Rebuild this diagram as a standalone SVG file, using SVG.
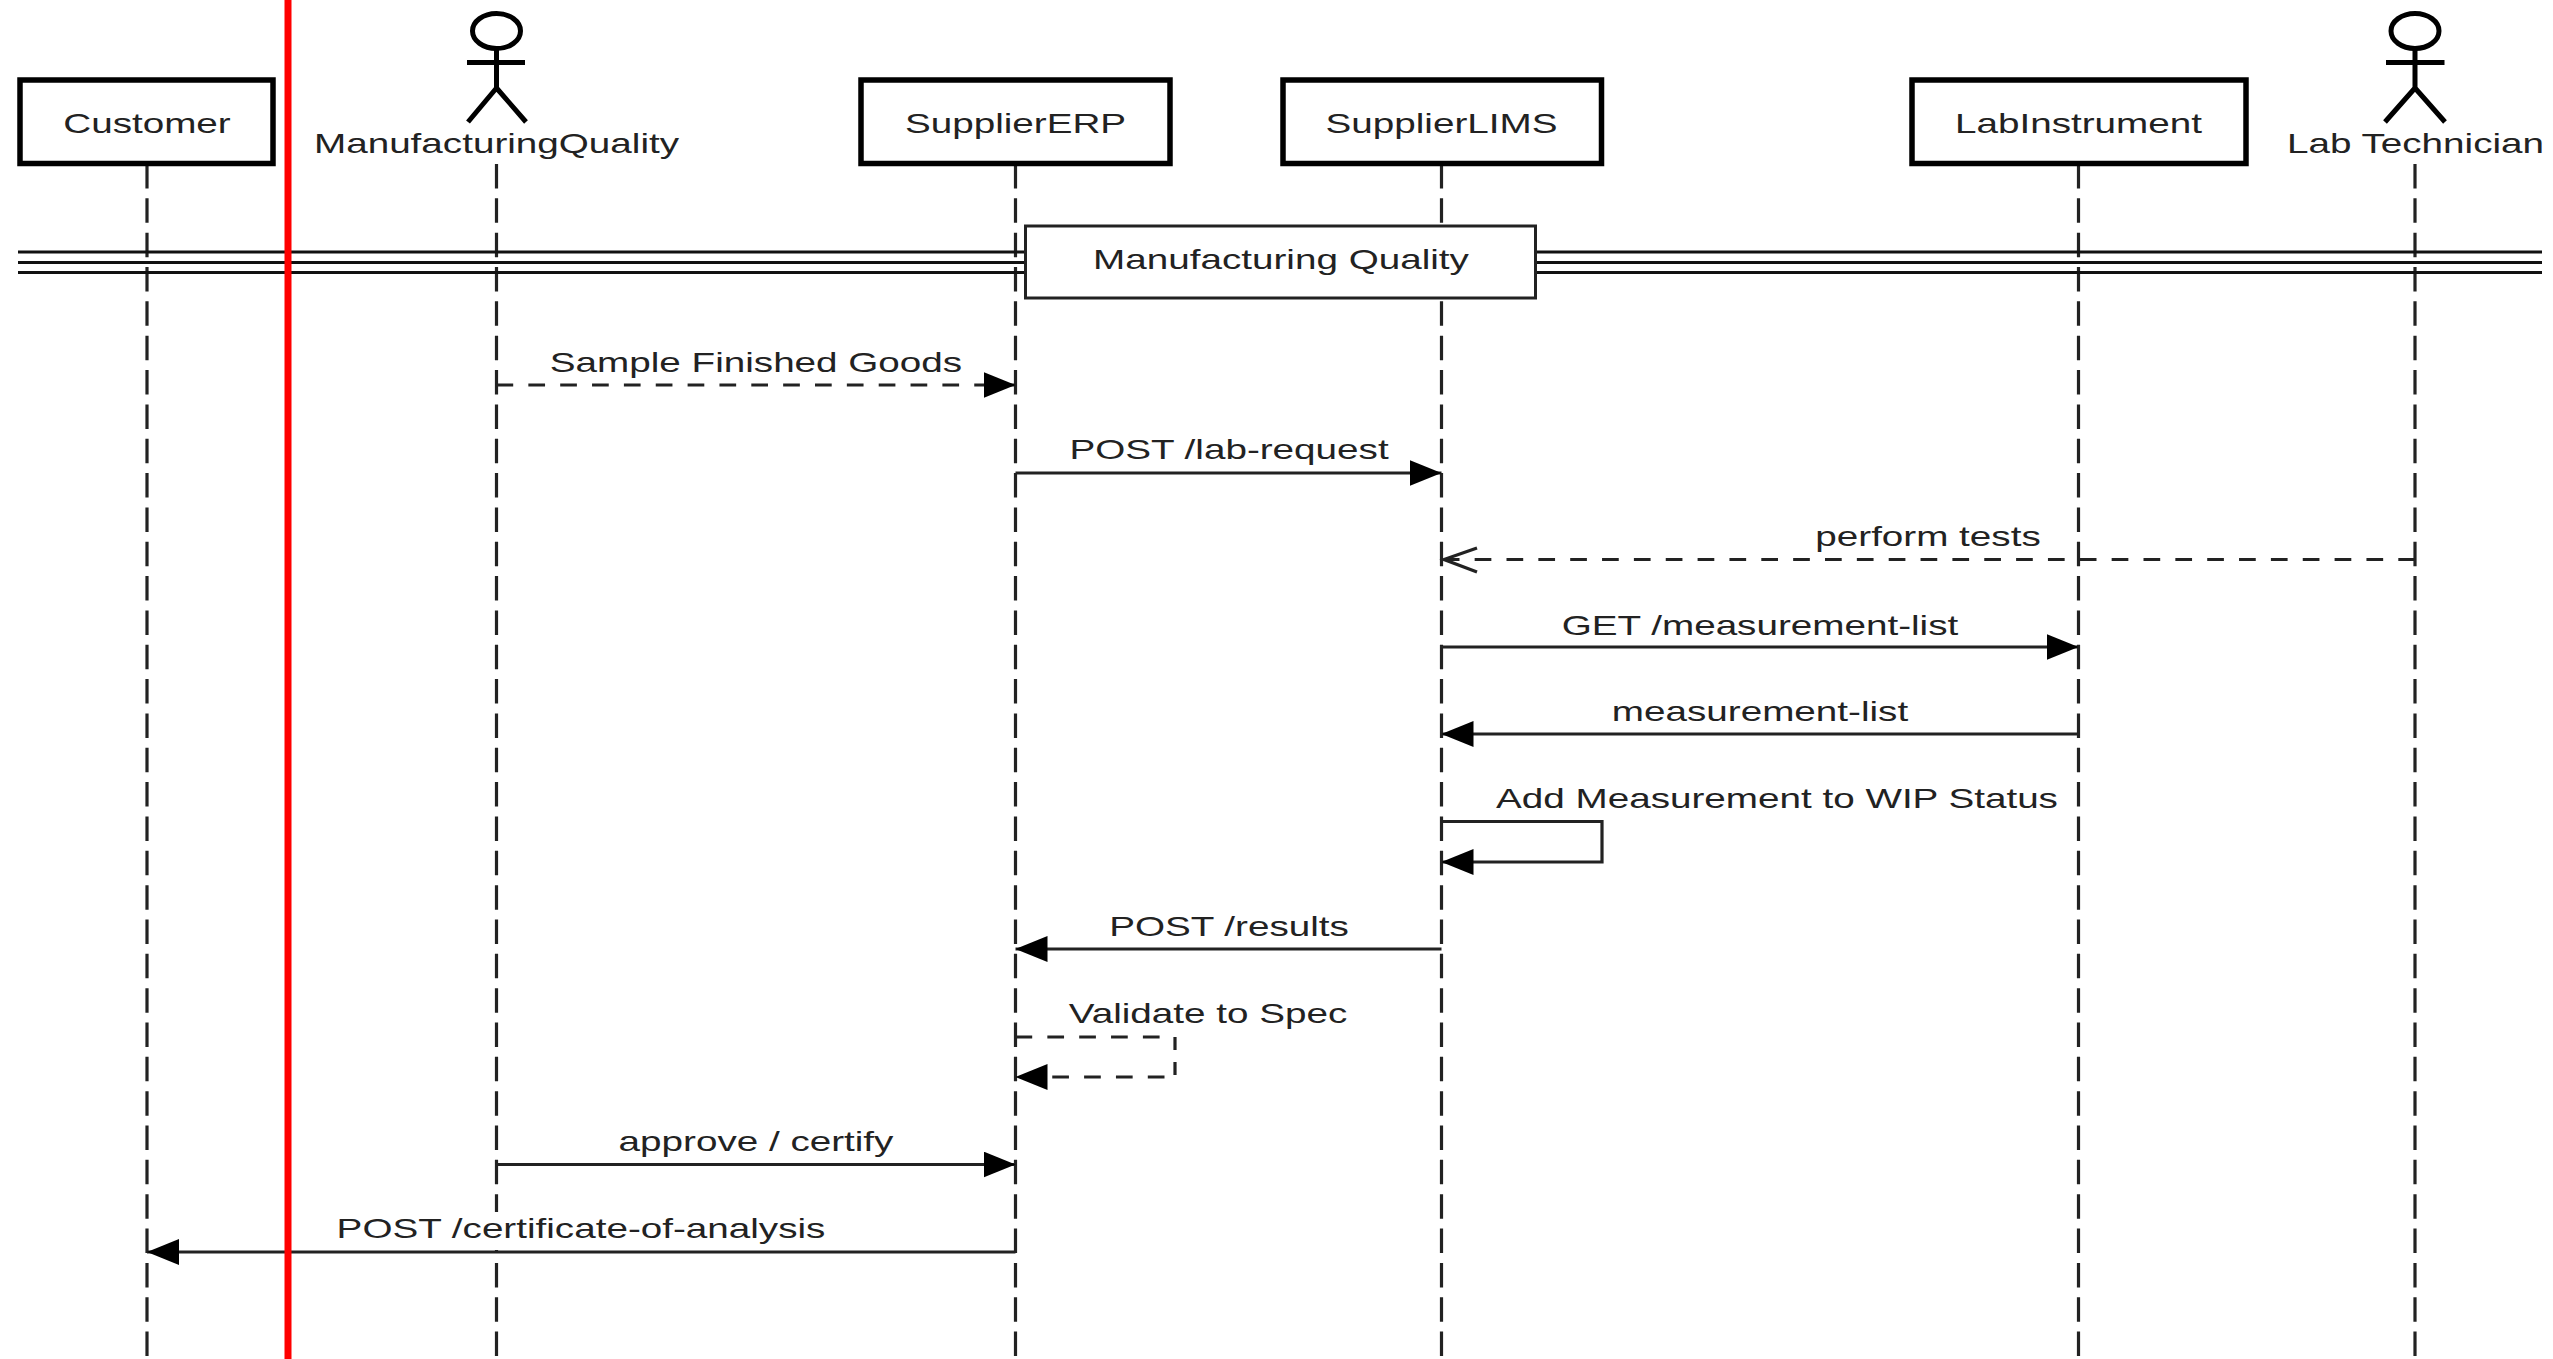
<svg xmlns="http://www.w3.org/2000/svg" width="2553" height="1359" viewBox="0 0 2553 1359">
<style>
text{font-family:"Liberation Sans",Arial,sans-serif;font-size:28px;fill:#222;text-anchor:middle}
.box{fill:#fff;stroke:#000;stroke-width:5.5}
.life{stroke:#222;stroke-width:3.2;stroke-dasharray:24.5 9.84;fill:none}
.div{stroke:#111;stroke-width:2.8;fill:none}
.msg{stroke:#222;stroke-width:3.2;fill:none}
.dash{stroke:#222;stroke-width:3.2;fill:none;stroke-dasharray:16.7 15.15}
.actor{stroke:#000;stroke-width:5;fill:none}
.head{fill:#000}
</style>
<defs>
<marker id="arrowR" markerUnits="userSpaceOnUse" markerWidth="32" markerHeight="26" refX="32" refY="13" orient="0"><path class="head" d="M0 0L32 13L0 26Z"/></marker>
<marker id="arrowL" markerUnits="userSpaceOnUse" markerWidth="32" markerHeight="26" refX="0" refY="13" orient="0"><path class="head" d="M32 0L0 13L32 26Z"/></marker>
</defs>
<rect width="2553" height="1359" fill="#fff"/>
<g id="lifelines">
<path class="life" d="M147 164V1359"/><path class="life" d="M496.500 164V1359"/><path class="life" d="M1015.500 164V1359"/><path class="life" d="M1441.500 164V1359"/><path class="life" d="M2078.500 164V1359"/><path class="life" d="M2415 164V1359"/>
</g>
<g id="divider">
<path class="div" d="M18 252H2542M18 262.500H2542M18 272.500H2542"/>
</g>
<g id="note-manufacturing-quality"><rect x="1025.500" y="226" width="510" height="72" fill="#fff" stroke="#222" stroke-width="3"/><text transform="translate(1281 268.500) scale(1.38 1)">Manufacturing Quality</text></g>
<g id="customer"><rect class="box" x="20" y="80" width="253" height="83.500"/><text transform="translate(147 132.500) scale(1.38 1)">Customer</text></g>
<g id="manufacturing-quality"><ellipse class="actor" cx="496.500" cy="31" rx="24" ry="17.500"/><path class="actor" d="M496.500 49V88M467 62.500H525M496.500 88L468 122M496.500 88L526 122"/><text transform="translate(496.500 153) scale(1.38 1)">ManufacturingQuality</text></g>
<g id="supplier-erp"><rect class="box" x="861" y="80" width="309" height="83.500"/><text transform="translate(1015.500 132.500) scale(1.38 1)">SupplierERP</text></g>
<g id="supplier-lims"><rect class="box" x="1283" y="80" width="318.500" height="83.500"/><text transform="translate(1441.500 132.500) scale(1.38 1)">SupplierLIMS</text></g>
<g id="lab-instrument"><rect class="box" x="1912" y="80" width="334" height="83.500"/><text transform="translate(2078.500 132.500) scale(1.38 1)">LabInstrument</text></g>
<g id="lab-technician"><ellipse class="actor" cx="2415" cy="31" rx="24" ry="17.500"/><path class="actor" d="M2415 49V88M2386 62.500H2444.500M2415 88L2385 122M2415 88L2445 122"/><text transform="translate(2415.500 153) scale(1.38 1)">Lab Technician</text></g>
<g id="connectors">
<path class="dash" d="M496.500 385H1015.500" marker-end="url(#arrowR)"/>
<path class="msg" d="M1015.500 473H1441.500" marker-end="url(#arrowR)"/>
<path class="dash" d="M2415 559.500H1446"/><path class="msg" d="M1477 548L1444 559.500L1477 572"/>
<path class="msg" d="M1441.500 647H2078.500" marker-end="url(#arrowR)"/>
<path class="msg" d="M2078.500 734H1441.500" marker-end="url(#arrowL)"/>
<path class="msg" d="M1441.500 821.500H1602V862H1441.500" marker-end="url(#arrowL)"/>
<path class="msg" d="M1441.500 949H1015.500" marker-end="url(#arrowL)"/>
<path class="dash" d="M1015.500 1037H1165"/><path class="dash" style="stroke-dasharray:13 12" d="M1175 1037V1077"/><path class="dash" d="M1164.500 1077H1015.500" marker-end="url(#arrowL)"/>
<path class="msg" d="M496.500 1164.500H1015.500" marker-end="url(#arrowR)"/>
<rect x="332" y="1212" width="498" height="38" fill="#fff"/>
<path class="msg" d="M1015.500 1252H147" marker-end="url(#arrowL)"/>
</g>
<g id="labels">
<text transform="translate(756 372) scale(1.38 1)">Sample Finished Goods</text>
<text transform="translate(1229 459) scale(1.38 1)">POST /lab-request</text>
<text transform="translate(1928 546) scale(1.38 1)">perform tests</text>
<text transform="translate(1760 634.500) scale(1.38 1)">GET /measurement-list</text>
<text transform="translate(1760 721) scale(1.38 1)">measurement-list</text>
<text transform="translate(1777 808) scale(1.38 1)">Add Measurement to WIP Status</text>
<text transform="translate(1229 936) scale(1.38 1)">POST /results</text>
<text transform="translate(1208 1023) scale(1.38 1)">Validate to Spec</text>
<text transform="translate(756 1151) scale(1.38 1)">approve / certify</text>
<text transform="translate(581 1238) scale(1.38 1)">POST /certificate-of-analysis</text>
</g>
<g id="boundary"><rect x="284.500" y="0" width="7" height="1359" fill="#f00"/></g>
</svg>
